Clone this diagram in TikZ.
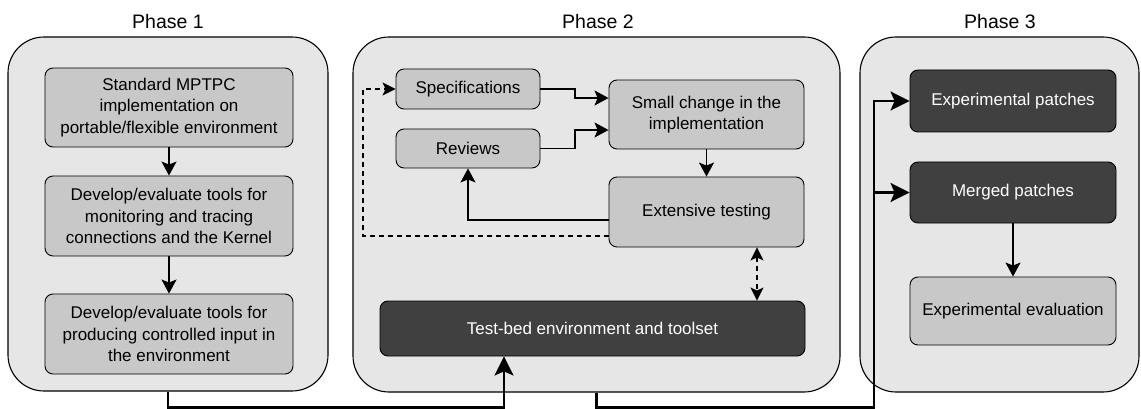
\documentclass[tikz,border=0pt]{standalone}
\usepackage{fontspec}
\setmainfont{Liberation Sans}
\usetikzlibrary{arrows.meta,calc}
\definecolor{contfill}{HTML}{E6E6E6}
\definecolor{boxfill}{HTML}{C8C8C8}
\definecolor{darkfill}{HTML}{404040}
\tikzset{
  container/.style={draw=black, line width=1.1pt, fill=contfill, rounded corners=36pt, inner sep=0pt},
  lightbox/.style={draw=black, line width=0.9pt, fill=boxfill, rounded corners=8pt, align=center, inner sep=0pt, font=\fontsize{17}{21.5}\selectfont},
  darkbox/.style={lightbox, fill=darkfill, text=white},
  title/.style={font=\fontsize{19.5}{23}\selectfont},
  arr/.style={line width=1.4pt, -{Stealth[length=14pt,width=15pt,inset=3pt]}},
  darr/.style={line width=1.2pt, dash pattern=on 5pt off 4pt, -{Stealth[length=13pt,width=13pt,inset=3pt]}},
  ddarr/.style={line width=1.2pt, dash pattern=on 5pt off 4pt, {Stealth[length=13pt,width=13pt,inset=3pt]}-{Stealth[length=13pt,width=13pt,inset=3pt]}},
  bigarr/.style={line width=2.6pt, -{Stealth[length=19pt,width=19pt,inset=4pt]}}
}
\begin{document}
\begin{tikzpicture}[x=1pt,y=-1pt]
\useasboundingbox (0,0) rectangle (1141,409);
% titles
\node[title] (t1) at (168,22) {Phase 1};
\node[title] (t2) at (598,22) {Phase 2};
\node[title] (t3) at (1000,22) {Phase 3};
% containers
\node[container, minimum width=320pt, minimum height=354pt] (P1) at (168,214) {};
\node[container, minimum width=487pt, minimum height=355pt] (P2) at (596.5,214.5) {};
\node[container, minimum width=279pt, minimum height=355pt] (P3) at (999.5,214.5) {};
% phase 1 boxes
\node[lightbox, minimum width=248pt, minimum height=79pt] (b11) at (169,107.5) {Standard MPTPC\\implementation on\\portable/flexible environment};
\node[lightbox, minimum width=248pt, minimum height=80pt] (b12) at (169,216) {Develop/evaluate tools for\\monitoring and tracing\\connections and the Kernel};
\node[lightbox, minimum width=248pt, minimum height=80pt] (b13) at (169,334) {Develop/evaluate tools for\\producing controlled input in\\the environment};
% phase 2 boxes
\node[lightbox, minimum width=144pt, minimum height=40pt] (spec) at (468,89) {Specifications};
\node[lightbox, minimum width=144pt, minimum height=39pt] (rev) at (468,148.5) {Reviews};
\node[lightbox, minimum width=195pt, minimum height=69pt] (small) at (706.5,114.5) {Small change in the\\implementation};
\node[lightbox, minimum width=195pt, minimum height=70pt] (ext) at (706.5,212) {Extensive testing};
\node[darkbox, minimum width=425pt, minimum height=55pt] (tb) at (592.5,328.5) {Test-bed environment and toolset};
% phase 3 boxes
\node[darkbox, minimum width=206pt, minimum height=62pt] (exp) at (1013,101) {Experimental patches};
\node[darkbox, minimum width=206pt, minimum height=61pt] (mer) at (1013,192.5) {Merged patches};
\node[lightbox, minimum width=206pt, minimum height=68pt] (eval) at (1013,311) {Experimental evaluation};
% helper coordinates
\coordinate (dx) at (757,0);
\coordinate (vx) at (874,0);
\coordinate (tbx) at (504,0);
\coordinate (lx) at (363,0);
\coordinate (mx) at (575,0);
% phase 1 arrows
\draw[arr] (b11) -- (b12);
\draw[arr] (b12) -- (b13);
% phase 2 arrows
\draw[arr] (spec.east) -| ($(mx)+(0,98)$) -- ([yshift=16.5pt]small.west);
\draw[arr] (rev.east) -| ($(mx)+(0,130)$) -- ([yshift=-15.5pt]small.west);
\draw[arr] (small) -- (ext);
\draw[arr] ([yshift=-8pt]ext.west) -| (rev.south);
\draw[darr] ([yshift=-24pt]ext.west) -| (spec.west -| lx) -- (spec.west);
\draw[ddarr] (ext.south -| dx) -- (tb.north -| dx);
% phase 3 arrow
\draw[arr, line width=1.1pt] (mer) -- (eval);
% bottom connectors
\draw[bigarr] (P1.south) -- ++(0,16) -| (tb.south -| tbx);
\draw[bigarr] (P2.south) -- ++(0,15) -| (exp.west -| vx) -- (exp.west);
\draw[bigarr] (mer.west -| vx) -- (mer.west);
\end{tikzpicture}
\end{document}
